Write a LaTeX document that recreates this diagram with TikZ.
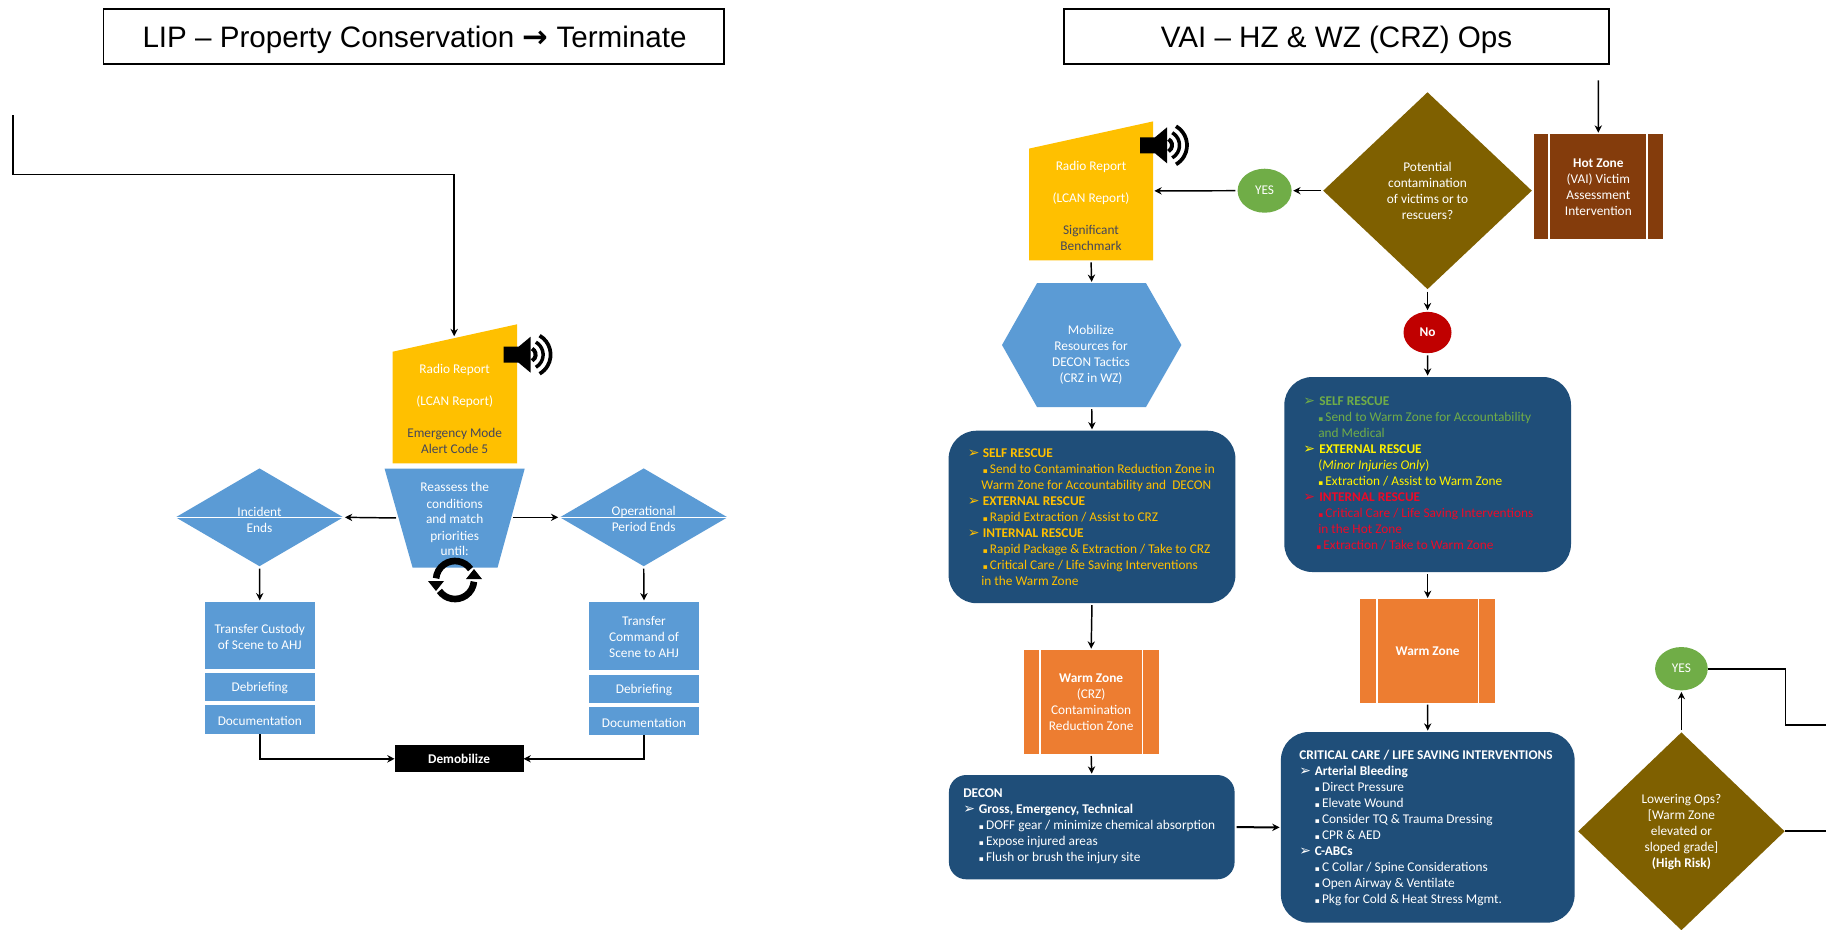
\documentclass[tikz,border=0pt]{standalone}
\usepackage{fontspec}
\usepackage{xcolor}
\setmainfont{Carlito}
\newfontfamily\arialfont{Liberation Sans}
\newfontfamily\dvfont{DejaVu Sans}
\usetikzlibrary{shapes.geometric,arrows.meta,calc}
\definecolor{bluemid}{HTML}{5B9BD5}
\definecolor{bluedark}{HTML}{1F4E79}
\definecolor{goldy}{HTML}{FFC000}
\definecolor{olivebrown}{HTML}{7F6000}
\definecolor{rustbrown}{HTML}{843C0C}
\definecolor{orangey}{HTML}{ED7D31}
\definecolor{greeny}{HTML}{70AD47}
\definecolor{darkred}{HTML}{C00000}
\definecolor{slatetext}{HTML}{44465A}
\definecolor{redtext}{HTML}{EC0A28}
\newlength\ind
\newcommand{\hdr}[1]{\makebox[\ind][l]{\dvfont\bfseries\fontsize{10.5pt}{10.5pt}\selectfont ➢}\textbf{#1}}
\newcommand{\smallbul}{{\dvfont\fontsize{5.5pt}{5.5pt}\selectfont ▪}\,}
\newcommand{\bul}[1]{\hspace*{\ind}\smallbul #1}
\newcommand{\rnode}[7]{%
  \pgfmathsetmacro\cxx{(#2+#4)/2}\pgfmathsetmacro\cyy{(#3+#5)/2}%
  \pgfmathsetmacro\www{(#4-#2)*0.75}\pgfmathsetmacro\hhh{(#5-#3)*0.75}%
  \node[shapebox,#6,minimum width=\www pt,minimum height=\hhh pt] (#1) at (\cxx,\cyy) {#7};}
\tikzset{
  shapebox/.style={rectangle,inner sep=0pt,outer sep=0pt,align=center,text=white,font=\bodyfont},
  conn/.style={draw=black,line width=1.1pt,-{Stealth[length=5.5pt,width=5.5pt]},shorten >=1pt,shorten <=1.5pt},
  plain/.style={draw=black,line width=1.3pt},
  txt/.style={inner sep=0pt,align=center,text=white,font=\bodyfont},
  ltxt/.style={inner sep=0pt,align=left,anchor=west,text=white,font=\bodyfont},
  titlebox/.style={draw=black,line width=1.1pt,fill=white},
  titletxt/.style={inner sep=0pt,anchor=base,text=black,font=\arialfont\fontsize{22.2pt}{26pt}\selectfont},
  pbar/.style={draw=white,line width=1.3pt}
}
\newcommand{\bodyfont}{\fontsize{10pt}{12pt}\selectfont}
\newcommand{\speaker}[2]{%
  \begin{scope}[shift={(#1,#2)},y=0.75pt]
    \fill[black] (0,8) -- (15,8) -- (27,18) -- (27,-18) -- (15,-8) -- (0,-8) -- cycle;
    \foreach \r/\w in {7/3,14.5/2.6,22/2.8}{
      \draw[black,line width=\w pt] ({25+\r*cos(60)},{\r*sin(60)}) arc[start angle=60,end angle=-60,radius=\r];
    }
  \end{scope}}
\newcommand{\refreshicon}[2]{%
  \begin{scope}[shift={(#1,#2)},y=0.75pt]
    \draw[black,line width=5pt] ({19*cos(35)},{19*sin(35)}) arc[start angle=35,end angle=175,radius=19];
    \fill[black] (-27,-1) -- (-11,-1) -- (-19,-11) -- cycle;
    \draw[black,line width=5pt] ({19*cos(215)},{19*sin(215)}) arc[start angle=215,end angle=355,radius=19];
    \fill[black] (27,1) -- (11,1) -- (19,11) -- cycle;
  \end{scope}}
\begin{document}
\begin{tikzpicture}[x=0.75pt,y=-0.75pt]
\useasboundingbox (0,0) rectangle (1826,929);
\clip (0,0) rectangle (1826,929);
\fill[white] (0,0) rectangle (1826,929);

% ---------- titles
\rnode{titleL}{103.6}{9}{724}{64}{titlebox}{}
\rnode{titleR}{1064}{9}{1609}{64}{titlebox}{}
\node[titletxt] (titleLtxt) at (414.5,47.5) {LIP – Property Conservation {\dvfont\bfseries\fontsize{23pt}{23pt}\selectfont →} Terminate};
\node[titletxt] (titleRtxt) at (1336.5,47.5) {VAI – HZ \& WZ (CRZ) Ops};

% ---------- left flow
\fill[goldy] (392.7,351.7) -- (517,324.3) -- (517,463.3) -- (392.7,463.3) -- cycle;
\rnode{radioL}{392.7}{324.3}{517}{463.3}{}{}
\coordinate (radioLin) at (454.2,337.5);
\coordinate (topLeftEnd) at (12.8,113);
\coordinate (topLeftA) at (12.8,174.7);
\coordinate (topLeftB) at (454.2,174.7);
\node[txt] (radioLtxt) at (454.7,409) {Radio Report\\[12pt](LCAN Report)\\[12pt]\textcolor{slatetext}{Emergency Mode}\\\textcolor{slatetext}{Alert Code 5}};
\speaker{503.6}{354.7}

\fill[bluemid] (384.6,468.7) -- (524.7,468.7) -- (497.5,567.7) -- (412.6,567.7) -- cycle;
\rnode{trap}{384.6}{468.7}{524.7}{567.7}{}{}
\coordinate (trapL) at (398,518);
\coordinate (trapR) at (511,517.3);
\node[txt] (traptxt) at (454.7,518.5) {Reassess the\\[1pt]conditions\\[-1pt]and match\\[1pt]priorities\\[-1pt]until:};
\refreshicon{455}{580}

\node[diamond,fill=bluemid,inner sep=0pt,minimum width=125.8pt,minimum height=73.5pt] (dL) at (259.5,517.3) {};
\draw[draw=white,line width=1pt] (dL.west) -- (dL.east);
\node[txt] (dLtxt) at (259.5,519.5) {Incident\\Ends};
\node[diamond,fill=bluemid,inner sep=0pt,minimum width=125.8pt,minimum height=73.5pt] (dR) at (643.7,517.3) {};
\draw[draw=white,line width=1pt] (dR.west) -- (dR.east);
\node[txt] (dRtxt) at (643.7,518.5) {Operational\\Period Ends};

\rnode{trL1}{205}{601.7}{314.6}{669}{fill=bluemid}{}
\node[txt] (trL1txt) at (259.8,636.5) {Transfer Custody\\of Scene to AHJ};
\rnode{trL2}{205}{673}{314.6}{701}{fill=bluemid}{}
\node[txt] (trL2txt) at (259.8,688.5) {Debriefing};
\rnode{trL3}{205}{705.3}{314.6}{734.3}{fill=bluemid}{}
\node[txt] (trL3txt) at (259.8,720.5) {Documentation};
\rnode{trR1}{589}{601.7}{699}{670}{fill=bluemid}{}
\node[txt] (trR1txt) at (644,637) {Transfer\\Command of\\Scene to AHJ};
\rnode{trR2}{589}{675}{699}{703}{fill=bluemid}{}
\node[txt] (trR2txt) at (644,690.5) {Debriefing};
\rnode{trR3}{589}{707}{699}{735.3}{fill=bluemid}{}
\node[txt] (trR3txt) at (644,722.5) {Documentation};
\rnode{demob}{394.6}{745.3}{523.5}{772.3}{fill=black}{\textbf{Demobilize}}

\draw[conn] (topLeftEnd) -- (topLeftA) -- (topLeftB) -- (radioLin);
\draw[conn] (trapL) -- (dL.east);
\draw[conn] (trapR) -- (dR.west);
\draw[conn] (dL.south) -- (trL1.north);
\draw[conn] (dR.south) -- (trR1.north);
\draw[conn,shorten <=0pt,shorten >=0pt] (trL3.south) |- (demob.west);
\draw[conn,shorten <=0pt,shorten >=0pt] (trR3.south) |- (demob.east);

% ---------- right flow: top
\rnode{hot}{1534}{134}{1662.6}{239}{fill=rustbrown}{}
\node[txt] (hottxt) at (1598.3,187.5) {\textbf{Hot Zone}\\(VAI) Victim\\Assessment\\Intervention};
\draw[pbar] (1549,134) -- (1549,239);
\draw[pbar] (1647,134) -- (1647,239);
\coordinate (hotTop) at (1598.4,78.4);
\draw[conn] (hotTop) -- (hot.north);

\node[diamond,fill=olivebrown,inner sep=0pt,minimum width=156.6pt,minimum height=147.8pt] (dC) at (1427.5,190.7) {};
\node[txt] (dCtxt) at (1427.5,191) {Potential\\contamination\\of victims or to\\rescuers?};
\node[ellipse,fill=greeny,inner sep=0pt,minimum width=40.5pt,minimum height=33pt,text=white,font=\bodyfont] (yes1) at (1264.6,190.7) {\raisebox{-1pt}{YES}};
\node[ellipse,fill=darkred,inner sep=0pt,minimum width=36pt,minimum height=31pt,text=white,font=\bodyfont] (no1) at (1427.5,332.5) {\textbf{No}};

\fill[goldy] (1029,148.6) -- (1153,121.4) -- (1153,260.4) -- (1029,260.4) -- cycle;
\rnode{radioR}{1029}{121.4}{1153}{260.4}{}{}
\coordinate (radioRbot) at (1091,260.4);
\node[txt] (radioRtxt) at (1091,205.5) {Radio Report\\[12pt](LCAN Report)\\[12pt]\textcolor{slatetext}{Significant}\\\textcolor{slatetext}{Benchmark}};
\speaker{1140}{145.3}

\fill[bluemid] (1037,283.2) -- (1146,283.2) -- (1181.4,345) -- (1146,407) -- (1037,407) -- (1002,345) -- cycle;
\rnode{hex}{1002}{283.2}{1181.4}{407}{}{}
\node[txt] (hextxt) at (1091,354.5) {Mobilize\\Resources for\\DECON Tactics\\(CRZ in WZ)};

\rnode{selfL}{948.6}{430.7}{1235.4}{603.2}{fill=bluedark,rounded corners=21pt}{}
\setlength{\ind}{11.25pt}
\node[ltxt,text=goldy] (selfLtxt) at (967.5,517) {\hdr{SELF RESCUE}\\
\bul{Send to Contamination Reduction Zone in}\\
\hspace*{10.2pt}Warm Zone for Accountability and~~DECON\\
\hdr{EXTERNAL RESCUE}\\
\bul{Rapid Extraction / Assist to CRZ}\\
\hdr{INTERNAL RESCUE}\\
\bul{Rapid Package \& Extraction / Take to CRZ}\\
\bul{Critical Care / Life Saving Interventions}\\
\hspace*{10.2pt}in the Warm Zone};

\rnode{selfR}{1284.3}{377}{1571}{572}{fill=bluedark,rounded corners=21pt}{}
\setlength{\ind}{12pt}
\node[ltxt] (selfRtxt) at (1303,473) {\textcolor{greeny}{\hdr{SELF RESCUE}}\\
\textcolor{greeny}{\hspace*{11.25pt}\smallbul Send to Warm Zone for Accountability}\\
\textcolor{greeny}{\hspace*{11.25pt}and Medical}\\
\textcolor{yellow}{\hdr{EXTERNAL RESCUE}}\\
\textcolor{yellow}{\hspace*{11.25pt}(\textit{Minor Injuries Only})}\\
\textcolor{yellow}{\hspace*{11.25pt}\smallbul Extraction / Assist to Warm Zone}\\
\textcolor{redtext}{\hdr{INTERNAL RESCUE}}\\
\textcolor{redtext}{\hspace*{11.25pt}\smallbul Critical Care / Life Saving Interventions}\\
\textcolor{redtext}{\hspace*{11.25pt}in the Hot Zone}\\
\textcolor{redtext}{\hspace*{9.75pt}\smallbul Extraction / Take to Warm Zone}};

% ---------- right flow: lower
\rnode{warmL}{1023.7}{650}{1158.6}{754}{fill=orangey}{\textbf{Warm Zone}\\(CRZ)\\Contamination\\Reduction Zone}
\draw[pbar] (1039.7,650) -- (1039.7,754);
\draw[pbar] (1142.6,650) -- (1142.6,754);
\rnode{warmR}{1360.3}{599.3}{1495}{702.7}{fill=orangey}{\textbf{Warm Zone}}
\draw[pbar] (1377,599.3) -- (1377,702.7);
\draw[pbar] (1478.6,599.3) -- (1478.6,702.7);

\rnode{decon}{948.9}{775}{1234.6}{879.3}{fill=bluedark,rounded corners=13pt}{}
\setlength{\ind}{11.7pt}
\node[ltxt] (decontxt) at (963,826.5) {\textbf{DECON}\\
\hdr{Gross, Emergency, Technical}\\
\bul{DOFF gear / minimize chemical absorption}\\
\bul{Expose injured areas}\\
\bul{Flush or brush the injury site}};

\rnode{crit}{1280.9}{732}{1574.6}{922.7}{fill=bluedark,rounded corners=21pt}{}
\node[ltxt] (crittxt) at (1299,827.5) {\textbf{CRITICAL CARE / LIFE SAVING INTERVENTIONS}\\
\hdr{Arterial Bleeding}\\
\bul{Direct Pressure}\\
\bul{Elevate Wound}\\
\bul{Consider TQ \& Trauma Dressing}\\
\bul{CPR \& AED}\\
\hdr{C-ABCs}\\
\bul{C Collar / Spine Considerations}\\
\bul{Open Airway \& Ventilate}\\
\bul{Pkg for Cold \& Heat Stress Mgmt.}};

\node[diamond,fill=olivebrown,inner sep=0pt,minimum width=155pt,minimum height=148.5pt] (dLow) at (1681.4,831.3) {};
\node[txt] (dLowtxt) at (1681.4,832) {Lowering Ops?\\{[}Warm Zone\\elevated or\\sloped grade{]}\\\textbf{(High Risk)}};
\node[ellipse,fill=greeny,inner sep=0pt,minimum width=39.5pt,minimum height=32.5pt,text=white,font=\bodyfont] (yes2) at (1681.4,668.7) {YES};

\coordinate (edgeA) at (1826,725.3);
\coordinate (edgeB) at (1826,831.3);
\coordinate (bendA) at (1785.4,668.7);
\coordinate (bendB) at (1785.4,725.3);

\draw[conn] (dC.west) -- (yes1.east);
\draw[conn] (yes1.west) -- (radioR.east);
\draw[conn] (dC.south) -- (no1.north);
\draw[conn] (no1.south) -- (selfR.north);
\draw[conn] (radioRbot) -- (hex.north);
\draw[conn] (hex.south) -- (selfL.north);
\draw[conn] (selfL.south) -- (warmL.north);
\draw[conn] (warmL.south) -- (decon.north);
\draw[conn] (selfR.south) -- (warmR.north);
\draw[conn] (warmR.south) -- (crit.north);
\draw[conn,line width=1.5pt] (decon.east) -- (crit.west);
\draw[conn] (dLow.north) -- (yes2.south);
\draw[plain] (yes2.east) -- (bendA) -- (bendB) -- (edgeA);
\draw[plain] (dLow.east) -- (edgeB);
\end{tikzpicture}
\end{document}
